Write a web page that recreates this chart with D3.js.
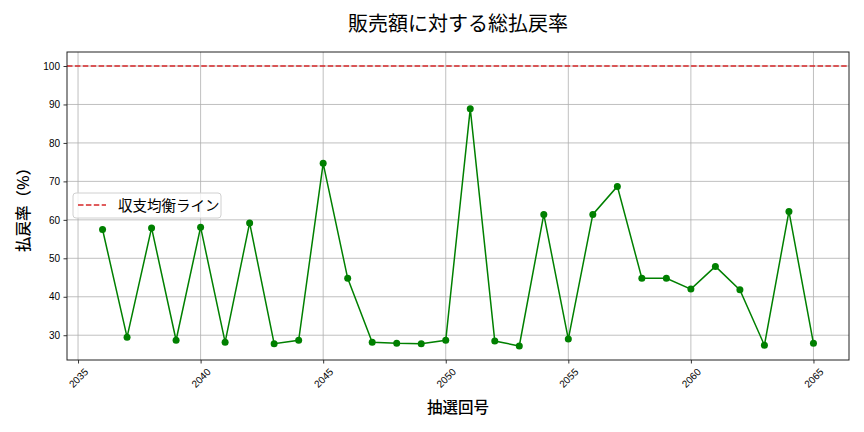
<!DOCTYPE html>
<html>
<head>
<meta charset="utf-8">
<script src="https://cdn.jsdelivr.net/npm/d3@7"></script>
<style>
  body { margin: 0; background: #fff; }
  svg { font-family: "Noto Sans CJK JP", "DejaVu Sans", sans-serif; }
  .tick text { font-size: 10px; fill: #000; }
  .grid line { stroke: #b0b0b0; stroke-width: 0.8; }
</style>
</head>
<body>
<svg id="chart"></svg>
<script>
// 抽選回号
const draws = [2036, 2037, 2038, 2039, 2040, 2041, 2042, 2043, 2044, 2045,
  2046, 2047, 2048, 2049, 2050, 2051, 2052, 2053, 2054, 2055,
  2056, 2057, 2058, 2059, 2060, 2061, 2062, 2063, 2064, 2065];
// 払戻率（%）
const payoutRates = [57.5, 29.5, 57.9, 28.7, 58.1, 28.2, 59.2, 27.8, 28.7, 74.7,
  44.8, 28.2, 27.9, 27.8, 28.7, 88.9, 28.5, 27.2, 61.4, 29.0,
  61.4, 68.7, 44.8, 44.8, 42.0, 47.9, 41.8, 27.4, 62.2, 27.9];
const breakEven = 100;
const xTicks = [2035, 2040, 2045, 2050, 2055, 2060, 2065];
const yTicks = [30, 40, 50, 60, 70, 80, 90, 100];

const width = 864;
const height = 432;
const margin = { top: 52, right: 15, bottom: 72, left: 67 };
const innerW = width - margin.left - margin.right;
const innerH = height - margin.top - margin.bottom;

const svg = d3.select("#chart").attr("width", width).attr("height", height);
const g = svg.append("g").attr("transform", `translate(${margin.left},${margin.top})`);

// matplotlib style 5% margins
const xMin = d3.min(draws), xMax = d3.max(draws);
const xPad = (xMax - xMin) * 0.05;
const yMin = d3.min(payoutRates), yMax = Math.max(d3.max(payoutRates), breakEven);
const yPad = (yMax - yMin) * 0.05;

const x = d3.scaleLinear().domain([xMin - xPad, xMax + xPad]).range([0, innerW]);
const y = d3.scaleLinear().domain([yMin - yPad, yMax + yPad]).range([innerH, 0]);

// grid
g.append("g").attr("class", "grid")
  .selectAll("line").data(xTicks).join("line")
  .attr("x1", (d) => x(d)).attr("x2", (d) => x(d))
  .attr("y1", 0).attr("y2", innerH);
g.append("g").attr("class", "grid")
  .selectAll("line").data(yTicks).join("line")
  .attr("x1", 0).attr("x2", innerW)
  .attr("y1", (d) => y(d)).attr("y2", (d) => y(d));

// axes
const gx = g.append("g")
  .attr("transform", `translate(0,${innerH})`)
  .call(d3.axisBottom(x).tickValues(xTicks).tickFormat(d3.format("d")).tickSizeOuter(0).tickSize(3.5));
gx.selectAll(".tick text")
  .attr("text-anchor", "middle")
  .attr("y", 0)
  .attr("dy", null)
  .attr("dominant-baseline", "central")
  .attr("transform", "translate(0,18) rotate(-45)");

const gy = g.append("g")
  .call(d3.axisLeft(y).tickValues(yTicks).tickFormat(d3.format("d")).tickSizeOuter(0).tickSize(3.5));
gy.selectAll(".tick text").attr("x", -7);

g.selectAll(".domain").remove();
g.selectAll(".tick line").attr("stroke", "#000").attr("stroke-width", 0.8);

// break-even line
g.append("line")
  .attr("x1", 0).attr("x2", innerW)
  .attr("y1", y(breakEven)).attr("y2", y(breakEven))
  .attr("stroke", "#d62728").attr("stroke-width", 1.5)
  .attr("stroke-dasharray", "5.5,2.4");

// series
const line = d3.line().x((d, i) => x(draws[i])).y((d) => y(d));
g.append("path")
  .datum(payoutRates)
  .attr("fill", "none")
  .attr("stroke", "green")
  .attr("stroke-width", 1.5)
  .attr("d", line);

g.selectAll("circle.pt").data(payoutRates).join("circle")
  .attr("class", "pt")
  .attr("cx", (d, i) => x(draws[i]))
  .attr("cy", (d) => y(d))
  .attr("r", 3.5)
  .attr("fill", "green");

// frame
g.append("rect")
  .attr("width", innerW).attr("height", innerH)
  .attr("fill", "none").attr("stroke", "#222").attr("stroke-width", 1);

// legend
const lg = g.append("g").attr("transform", "translate(6,141)");
lg.append("rect")
  .attr("width", 148).attr("height", 25).attr("rx", 3)
  .attr("fill", "#fff").attr("fill-opacity", 0.8)
  .attr("stroke", "#d0d0d0");
lg.append("line")
  .attr("x1", 5).attr("x2", 33).attr("y1", 12).attr("y2", 12)
  .attr("stroke", "#d62728").attr("stroke-width", 1.5)
  .attr("stroke-dasharray", "5.5,2.4");
lg.append("text")
  .attr("x", 45).attr("y", 17.5)
  .attr("font-size", 14.5)
  .text("収支均衡ライン");

// titles
svg.append("text")
  .attr("x", margin.left + innerW / 2).attr("y", 31)
  .attr("text-anchor", "middle").attr("font-size", 20)
  .text("販売額に対する総払戻率");

svg.append("text")
  .attr("x", margin.left + innerW / 2).attr("y", 413)
  .attr("text-anchor", "middle").attr("font-size", 15.5)
  .attr("font-weight", 500)
  .text("抽選回号");

svg.append("text")
  .attr("transform", `translate(29,${margin.top + innerH / 2}) rotate(-90)`)
  .attr("text-anchor", "middle").attr("font-size", 15.5)
  .attr("font-weight", 500)
  .text("払戻率（%）");
</script>
</body>
</html>
